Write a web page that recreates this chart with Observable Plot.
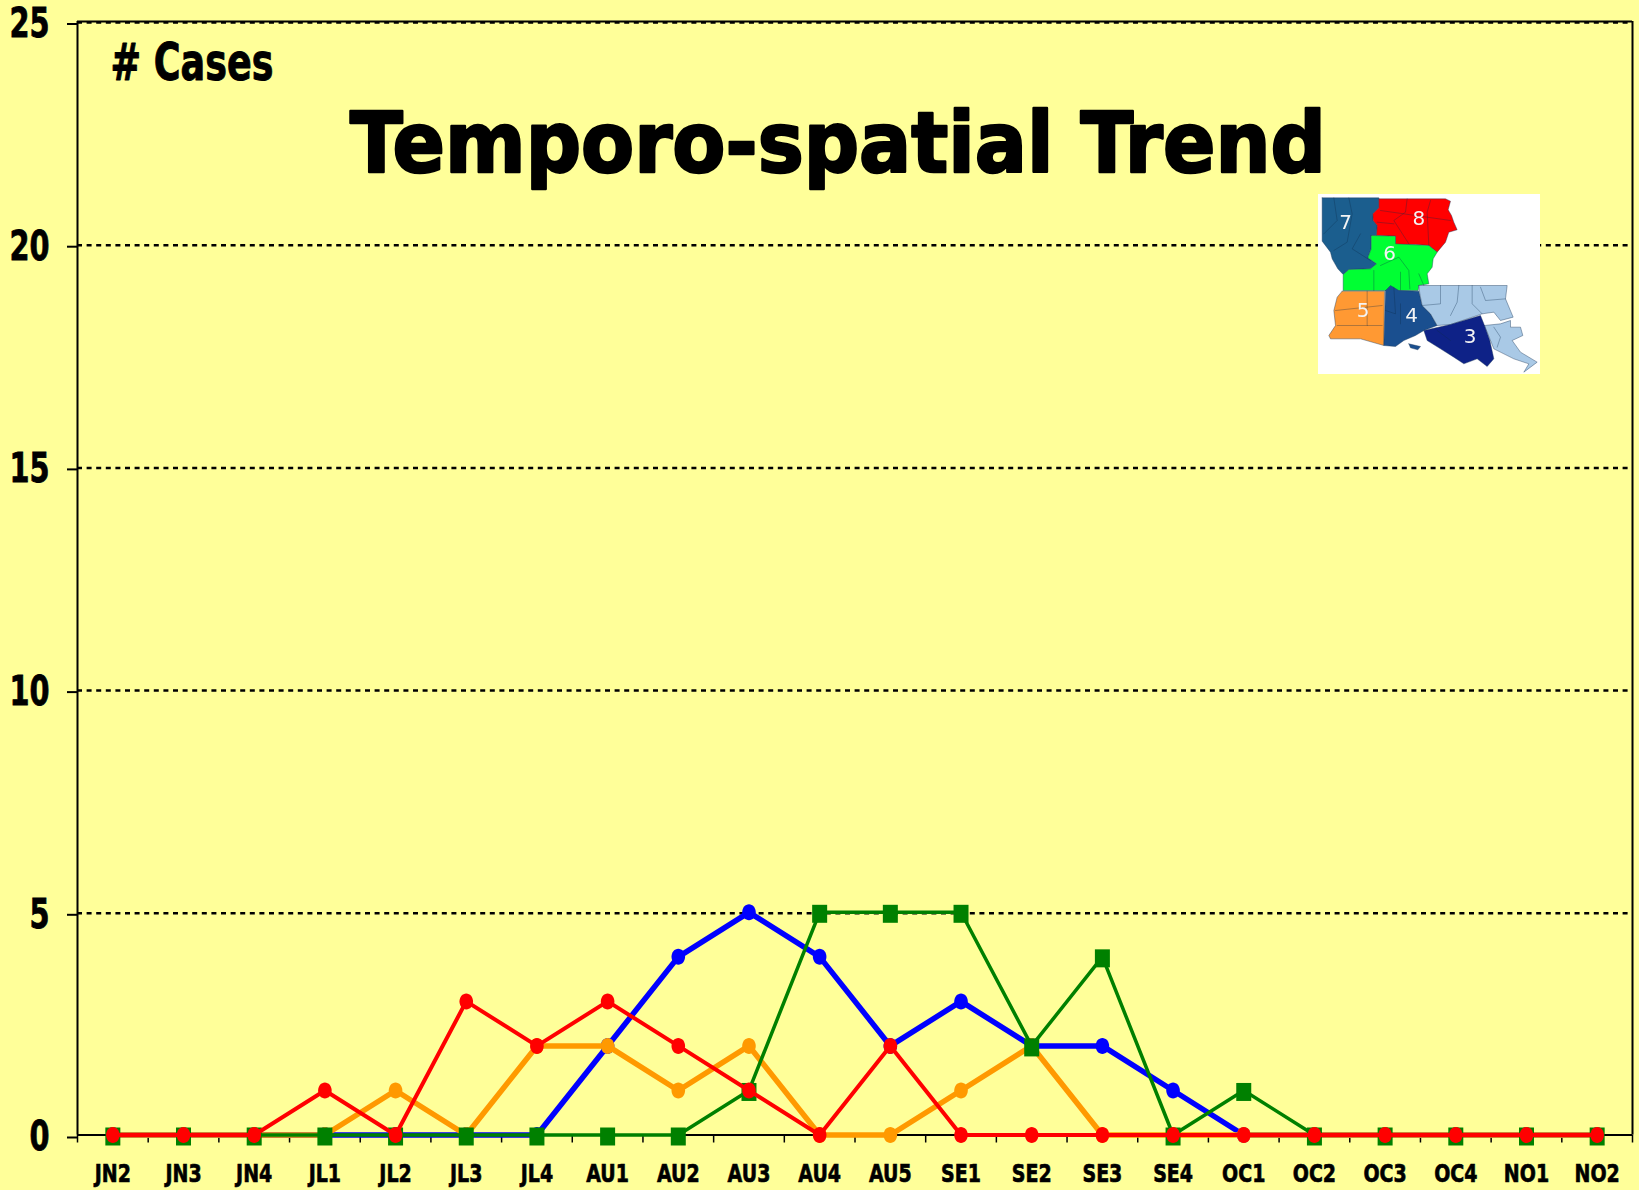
<!DOCTYPE html>
<html><head><meta charset="utf-8">
<style>html,body{margin:0;padding:0;background:#FFFF99;overflow:hidden}#c{position:relative;width:1639px;height:1190px}#c svg{position:absolute;overflow:visible}</style>
<script src="https://cdn.jsdelivr.net/npm/d3@7"></script>
<script src="https://cdn.jsdelivr.net/npm/@observablehq/plot@0.6"></script>
</head><body><div id="c"></div>
<script>
const weeks=["JN2","JN3","JN4","JL1","JL2","JL3","JL4","AU1","AU2","AU3","AU4","AU5","SE1","SE2","SE3","SE4","OC1","OC2","OC3","OC4","NO1","NO2"];
const blueCases=[0,0,0,0,0,0,0,2,4,5,4,2,3,2,2,1,0,0,0,0,0,0];
const orangeCases=[0,0,0,0,1,0,2,2,1,2,0,0,1,2,0,0,0,0,0,0,0,0];
const greenCases=[0,0,0,0,0,0,0,0,0,1,5,5,5,2,4,0,1,0,0,0,0,0];
const redCases=[0,0,0,1,0,3,2,3,2,1,0,2,0,0,0,0,0,0,0,0,0,0];
const yTicks=[0,5,10,15,20,25];
const idx=weeks.map((_,i)=>i);
const edges=[...weeks.map((_,i)=>i-0.5),weeks.length-0.5];
const FONT='"DejaVu Sans",sans-serif';

const ellipseSymbol={draw(c){const rx=6.8,ry=8,kx=rx*0.5523,ky=ry*0.5523;
  c.moveTo(-rx,0);c.bezierCurveTo(-rx,-ky,-kx,-ry,0,-ry);c.bezierCurveTo(kx,-ry,rx,-ky,rx,0);
  c.bezierCurveTo(rx,ky,kx,ry,0,ry);c.bezierCurveTo(-kx,ry,-rx,ky,-rx,0);c.closePath();}};
const rectSymbol={draw(c){c.rect(-7.5,-9,15,18);}};

const series=(vals,stroke,w)=>Plot.line(idx,{x:d=>d,y:d=>vals[d],stroke,strokeWidth:w});
const dots=(vals,fill)=>Plot.dot(idx,{x:d=>d,y:d=>vals[d],fill,symbol:ellipseSymbol});

const chart=Plot.plot({
  width:1639,height:1190,marginLeft:77,marginRight:7,marginTop:21,marginBottom:55.5,
  style:{background:"transparent",color:"#000",overflow:"visible"},
  x:{type:"linear",domain:[-0.5,21.5],axis:null},
  y:{domain:[0,25],axis:null},
  marks:[
    Plot.ruleY(yTicks.filter(d=>d>0),{stroke:"#000",strokeWidth:2.5,strokeDasharray:"5,4.6",dy:1}),
    Plot.ruleY([25,0],{stroke:"#000",strokeWidth:2}),
    Plot.ruleX([-0.5,21.5],{stroke:"#000",strokeWidth:2}),
    Plot.axisX({ticks:edges,tickFormat:()=>"",tickSize:8,stroke:"#000",strokeWidth:1.5,label:null}),
    Plot.axisX({ticks:idx,tickFormat:i=>weeks[i],tickSize:0,tickPadding:29,fontSize:25,fontWeight:"bold",fontFamily:FONT,label:null,className:"xlab"}),
    Plot.axisY({ticks:yTicks,tickSize:10,tickPadding:18,strokeWidth:2,fontSize:40,fontWeight:"bold",fontFamily:FONT,label:null,tickFormat:d=>String(d),dy:2.5,className:"ylab"}),
    Plot.text(["# Cases"],{frameAnchor:"top-left",dx:33,dy:58.5,lineAnchor:"bottom",fontSize:52,fontWeight:"bold",fontFamily:FONT,fill:"#000",stroke:"#000",strokeWidth:1,className:"cases"}),
    Plot.text(["Temporo-spatial Trend"],{frameAnchor:"top",dx:-17,dy:150,lineAnchor:"bottom",fontSize:84,fontWeight:"bold",fontFamily:FONT,fill:"#000",stroke:"#000",strokeWidth:2.5,className:"maintitle"}),
    series(blueCases,"#0000FF",5.5),dots(blueCases,"#0000FF"),
    series(orangeCases,"#FF9900",5.5),dots(orangeCases,"#FF9900"),
    series(greenCases,"#008000",3.5),
    Plot.dot(idx,{x:d=>d,y:d=>greenCases[d],symbol:rectSymbol,fill:"#008000",dy:1.5}),
    series(redCases,"#FF0000",4),dots(redCases,"#FF0000")
  ]
});
chart.style.left="0";chart.style.top="0";
document.getElementById("c").appendChild(chart);
const squeeze=(t,len)=>{t.setAttribute("textLength",len);t.setAttribute("lengthAdjust","spacingAndGlyphs");};
chart.querySelectorAll(".maintitle text").forEach(t=>squeeze(t,976));
chart.querySelectorAll(".cases text").forEach(t=>squeeze(t,163));
chart.querySelectorAll(".xlab text").forEach(t=>{squeeze(t,t.getComputedTextLength()*0.76);t.setAttribute("stroke","#000");t.setAttribute("stroke-width","0.7");});
chart.querySelectorAll(".ylab text").forEach(t=>{squeeze(t,t.getComputedTextLength()*0.72);t.setAttribute("stroke","#000");t.setAttribute("stroke-width","0.8");});

const region7=[[125,82],[295,82],[295,112],[277,130],[278,150],[290,165],[288,195],[272,195],[272,235],[262,262],[288,280],[270,295],[205,297],[188,312],[172,295],[155,265],[150,245],[125,212]];
const region8=[[295,85],[495,85],[510,92],[503,118],[513,135],[520,155],[530,178],[505,185],[495,215],[470,245],[445,225],[405,222],[385,222],[345,222],[345,197],[288,195],[290,165],[278,150],[277,130],[295,112]];
const region6=[[272,195],[345,197],[345,220],[385,222],[445,225],[470,245],[458,265],[455,290],[440,310],[445,340],[415,345],[413,360],[188,360],[188,312],[205,297],[270,295],[288,280],[262,262],[272,235]];
const region5=[[185,362],[312,362],[310,525],[240,505],[150,505],[145,495],[165,465],[160,420],[170,380]];
const region4=[[315,360],[330,345],[355,360],[415,362],[425,405],[450,430],[470,465],[430,480],[405,495],[370,510],[345,528],[310,525]];
const region3=[[430,480],[510,462],[600,435],[610,460],[628,510],[640,565],[620,588],[590,565],[550,580],[520,560],[480,535],[440,510]];
const region2a=[[415,345],[680,345],[675,385],[698,440],[660,450],[640,425],[605,430],[510,462],[470,465],[450,430],[425,405],[418,370]];
const region2b=[[612,465],[660,460],[690,450],[690,470],[720,470],[727,495],[695,510],[720,545],[770,575],[730,605],[745,580],[700,565],[640,535]];
const islandA=[[385,520],[420,528],[412,538],[390,532]];
const parishLines=[
 [[160,82],[170,150],[130,190]],[[205,82],[215,130],[200,215],[160,240]],[[240,190],[215,235],[270,270]],
 [[380,85],[375,125],[340,150],[385,220]],[[450,90],[440,125],[445,225]],[[300,120],[370,130],[510,150]],[[290,155],[340,160]],
 [[300,285],[355,260],[385,300],[388,355]],[[280,300],[280,360]],[[360,305],[360,358]],[[415,310],[430,345]],
 [[165,420],[305,405]],[[260,362],[260,465],[305,465]],[[170,465],[260,465]],
 [[340,350],[345,430],[315,420]],[[360,400],[360,460]],[[480,345],[480,400],[425,405]],[[535,345],[530,395],[510,435]],
 [[575,345],[575,400],[605,430]],[[600,350],[615,390],[675,385]],[[470,480],[510,510]],
 [[640,470],[660,500],[650,530]]
];
const polys=[["#1B5E8E",region7],["#FF0000",region8],["#00FF33",region6],["#FF9933",region5],["#1A4F8F",region4],["#A9C9E6",region2a],["#A9C9E6",region2b],["#0E2287",region3],["#1A4F8F",islandA]];
const mapLabels=[["7",195,155],["8",415,143],["6",327,250],["5",248,420],["4",393,435],["3",569,498]];
const inset=Plot.plot({
  width:222,height:180,margin:0,
  style:{background:"#fff",overflow:"hidden",filter:"blur(0.4px)"},
  x:{domain:[114,780],axis:null},y:{domain:[612,72],axis:null},
  marks:[
    ...polys.map(([c,p])=>Plot.line([...p,p[0]],{x:d=>d[0],y:d=>d[1],fill:c,stroke:"#1d3a5c",strokeWidth:0.6,strokeOpacity:.7})),
    ...parishLines.map(p=>Plot.line(p,{x:d=>d[0],y:d=>d[1],stroke:"#0b2a4a",strokeWidth:0.6,strokeOpacity:.55})),
    Plot.text(mapLabels,{x:d=>d[1],y:d=>d[2],text:d=>d[0],fill:"#F4F4F4",fontSize:20,fontFamily:FONT})
  ]
});
inset.style.left="1318px";inset.style.top="194px";
document.getElementById("c").appendChild(inset);
</script></body></html>
